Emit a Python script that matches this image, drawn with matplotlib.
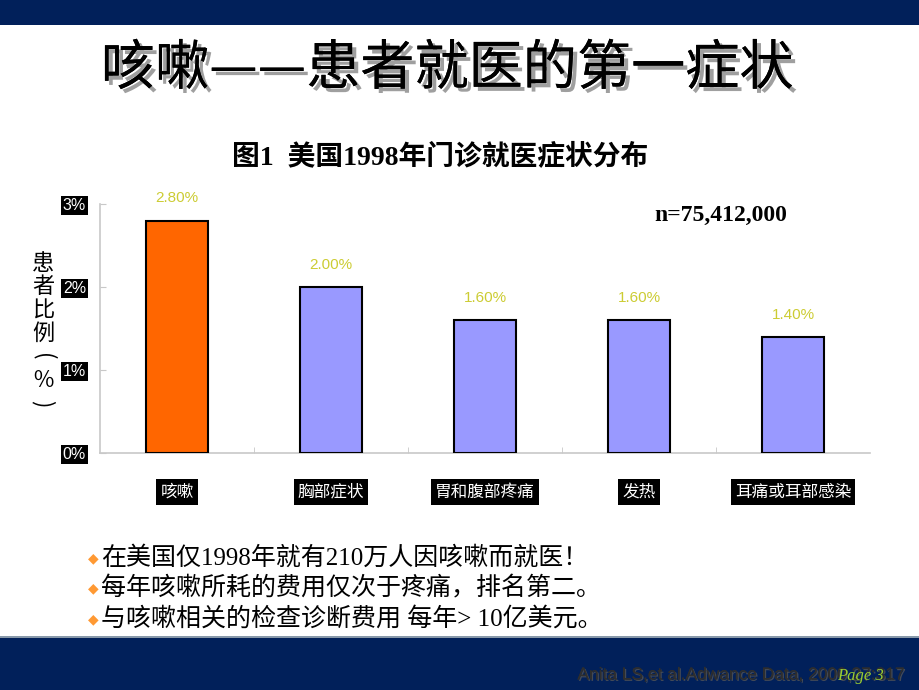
import numpy as np
import matplotlib.pyplot as plt
import matplotlib.patheffects as pe
from matplotlib.patches import Rectangle

plt.rcParams['font.family'] = ['Noto Sans CJK SC', 'DejaVu Sans']

# data
symptoms = ['咳嗽', '胸部症状', '胃和腹部疼痛', '发热', '耳痛或耳部感染']
share = [2.8, 2.0, 1.6, 1.6, 1.4]          # percent of visits
bar_colors = ['#ff6600', '#9999ff', '#9999ff', '#9999ff', '#9999ff']
y_ticks = [0, 1, 2, 3]
y_ticklabels = ['0%', '1%', '2%', '3%']
ylabel_chars = ['患', '者', '比', '例', '(', '％', ')']
bullets = ['在美国仅1998年就有210万人因咳嗽而就医！',
           '每年咳嗽所耗的费用仅次于疼痛，排名第二。',
           '与咳嗽相关的检查诊断费用 每年> 10亿美元。']

navy = '#01205a'
fig = plt.figure(figsize=(9.2, 6.9), dpi=100)
fig.patch.set_facecolor('white')

# top and bottom bands of the slide
fig.add_artist(Rectangle((0, 1 - 25/690), 1, 25/690, transform=fig.transFigure,
                         facecolor=navy, edgecolor='none'))
fig.add_artist(Rectangle((0, 0), 1, 52/690, transform=fig.transFigure,
                         facecolor=navy, edgecolor='none'))
fig.add_artist(Rectangle((0, 52/690), 1, 2/690, transform=fig.transFigure,
                         facecolor='#8899aa', edgecolor='none'))

# slide title with shadow
fig.text(447/920, 1 - 69/690, '咳嗽——患者就医的第一症状', ha='center', va='center',
         fontsize=39, color='black',
         path_effects=[pe.withSimplePatchShadow(offset=(3, -3), shadow_rgbFace='#777777', alpha=0.7),
                       pe.Normal()])

# chart title
fig.text(440/920, 1 - 158/690, '图1  美国1998年门诊就医症状分布', ha='center', va='center',
         fontsize=20, fontweight='bold', family=['Liberation Serif', 'Noto Sans CJK SC'])
fig.text(721/920, 1 - 215/690, 'n=75,412,000', ha='center', va='center',
         fontsize=17, fontweight='bold', family=['Liberation Serif'])

# axes
ax = fig.add_axes([100/920, 1 - 453/690, 770/920, 249/690])
x = np.arange(len(symptoms))
ax.bar(x, share, width=0.4, color=bar_colors, edgecolor='black', linewidth=1.5, zorder=3)
for xi, v in zip(x, share):
    ax.annotate(f'{v:.2f}%', (xi, v), xytext=(0, 16), textcoords='offset points',
                ha='center', va='center', fontsize=11, color='#cccc33',
                family=['Liberation Sans'])

ax.set_xlim(-0.5, 4.5)
ax.set_ylim(0, 3)
for s in ['top', 'right']:
    ax.spines[s].set_visible(False)
for s in ['left', 'bottom']:
    ax.spines[s].set_color('#c8c8c8')
    ax.spines[s].set_linewidth(1.2)

ax.set_yticks(y_ticks)
ax.set_yticklabels(y_ticklabels, family=['Liberation Sans'], fontsize=11.5, color='white')
ax.tick_params(axis='y', direction='in', length=4, color='#c8c8c8', pad=10)
for t in ax.get_yticklabels():
    t.set_bbox(dict(facecolor='black', edgecolor='none', pad=1.2))

ax.set_xticks(x)
ax.set_xticklabels(symptoms, fontsize=12, color='white')
ax.set_xticks(np.arange(0.5, 4.5, 1), minor=True)
ax.tick_params(axis='x', which='major', length=0, pad=22)
ax.tick_params(axis='x', which='minor', direction='in', length=4, color='#c8c8c8')
for t in ax.get_xticklabels():
    t.set_bbox(dict(facecolor='black', edgecolor='none', pad=3))

# vertical y label, one character per line; brackets turned to the vertical form
for i, ch in enumerate(ylabel_chars):
    rot = -90 if ch in '()' else 0
    fig.text(43/920, 1 - (263 + 23.5*i)/690, ch, ha='center', va='center',
             fontsize=16, rotation=rot)

# bullet lines
for i, line in enumerate(bullets):
    yy = 1 - (558 + 30.5*i)/690
    fig.text(93/920, yy, '◆', ha='center', va='center', fontsize=10, color='#ff9933',
             family=['DejaVu Sans'])
    fig.text(101/920, yy, line, ha='left', va='center', fontsize=18,
             family=['Liberation Serif', 'Noto Sans CJK SC'])

# footer citation (overlapped by the page number, as on the slide)
fig.text(905/920, 1 - 675/690, 'Anita LS,et al.Adwance Data, 2000,27:317', ha='right', va='center',
         fontsize=12.5, color='#2e2e2e', family=['Liberation Sans'],
         path_effects=[pe.withSimplePatchShadow(offset=(1, -1), shadow_rgbFace='#555555', alpha=0.8),
                       pe.Normal()])
fig.text(860/920, 1 - 676/690, 'Page 3', ha='center', va='center', fontsize=12,
         style='italic', color='#99cc33', family=['Liberation Serif'])

fig.savefig('out.png', dpi=100)
